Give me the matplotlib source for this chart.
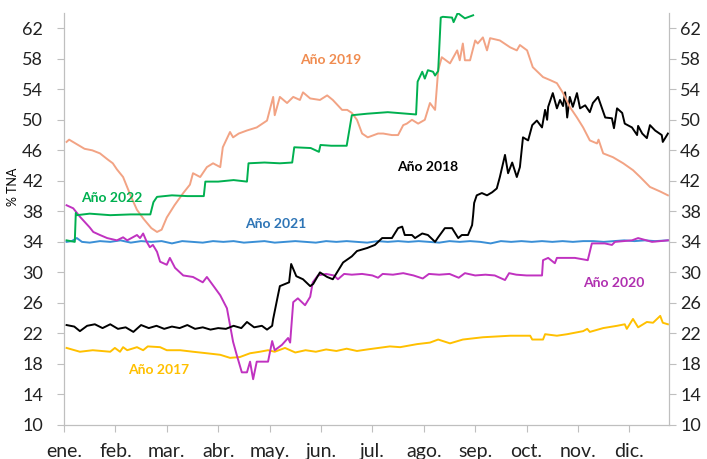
import matplotlib.pyplot as plt

plt.rcParams['font.family'] = ['Lato', 'DejaVu Sans']

meses = ['ene.', 'feb.', 'mar.', 'abr.', 'may.', 'jun.',
         'jul.', 'ago.', 'sep.', 'oct.', 'nov.', 'dic.']

# x en meses (0 = 1 de enero), y en % TNA
x2017 = [0.05, 0.31, 0.56, 0.9, 0.99, 1.09, 1.15, 1.23, 1.42, 1.54, 1.63, 1.87, 2.0, 2.26, 2.51,
         2.78, 3.04, 3.23, 3.42, 3.62, 3.81, 3.97, 4.1, 4.3, 4.5, 4.7, 4.9, 5.1, 5.3, 5.5, 5.7,
         5.9, 6.34, 6.54, 6.87, 7.12, 7.28, 7.51, 7.76, 8.15, 8.68, 9.07, 9.11, 9.32, 9.36, 9.59,
         9.79, 10.1, 10.18, 10.23, 10.49, 10.76, 10.91, 10.95, 11.07, 11.17, 11.34, 11.46, 11.6,
         11.65, 11.75]
y2017 = [20.1, 19.6, 19.8, 19.6, 20.1, 19.6, 20.2, 19.8, 20.2, 19.8, 20.3, 20.2, 19.8, 19.8, 19.6,
         19.4, 19.2, 18.8, 18.9, 19.4, 19.6, 19.8, 19.6, 20.1, 19.5, 19.8, 19.6, 19.9, 19.7, 20.0, 19.7,
         19.9, 20.3, 20.2, 20.6, 20.8, 21.2, 20.7, 21.2, 21.5, 21.7, 21.7, 21.2, 21.2, 21.9, 21.7,
         21.9, 22.3, 22.6, 22.2, 22.7, 23.0, 23.2, 22.6, 23.9, 22.8, 23.5, 23.4, 24.3,
         23.4, 23.2]

x2018 = [0.05, 0.2, 0.31, 0.45, 0.6, 0.75, 0.9, 1.05, 1.2, 1.35, 1.5, 1.65, 1.8, 1.95, 2.1, 2.25,
         2.4, 2.55, 2.7, 2.85, 3.0, 3.15, 3.3, 3.45, 3.56, 3.7, 3.85, 3.95, 4.05, 4.07, 4.16, 4.2,
         4.38, 4.42, 4.52, 4.65, 4.79, 4.85, 4.98, 5.12, 5.23, 5.43, 5.6, 5.7, 5.9, 6.05, 6.19,
         6.38, 6.5, 6.58, 6.63, 6.77, 6.83, 6.97, 7.08, 7.22, 7.28, 7.41, 7.55, 7.67, 7.74, 7.86,
         7.94, 7.96, 7.98, 8.03, 8.13, 8.23, 8.33, 8.42, 8.48, 8.58, 8.64, 8.72, 8.81, 8.87, 8.93,
         9.03, 9.11, 9.2, 9.3, 9.36, 9.4, 9.42, 9.51, 9.59, 9.65, 9.71, 9.75, 9.79, 9.84, 9.9,
         9.98, 10.04, 10.14, 10.23, 10.29, 10.39, 10.53, 10.66, 10.7, 10.76, 10.86, 10.91, 11.05,
         11.15, 11.17, 11.25, 11.34, 11.4, 11.5, 11.63, 11.65, 11.75]
y2018 = [23.1, 22.9, 22.3, 23.0, 23.2, 22.7, 23.2, 22.6, 22.8, 22.2, 23.1, 22.7, 23.0, 22.6, 22.9, 22.7,
         23.1, 22.6, 22.8, 22.5, 22.7, 22.6, 23.0, 22.7, 23.5, 22.8, 23.0, 22.5, 23.0, 23.9, 26.9, 28.2,
         28.7, 31.1, 29.5, 29.1, 28.2, 28.5, 30.0, 29.4, 29.1, 31.3, 32.1, 32.8, 33.2, 33.6, 34.5,
         34.5, 35.8, 36.0, 34.9, 34.9, 34.5, 35.1, 34.9, 34.0, 34.6, 35.8, 35.8, 34.5, 34.9, 34.9,
         36.2, 37.5, 39.1, 40.1, 40.4, 40.1, 40.5, 41.0, 42.5, 45.4, 43.0, 44.4, 42.5, 43.8, 47.7,
         47.3, 49.3, 49.9, 49.0, 51.3, 50.0, 51.7, 53.5, 51.5, 52.6, 51.8, 53.6, 50.3, 53.0, 51.7,
         53.5, 51.5, 51.9, 51.0, 52.2, 53.0, 50.3, 50.2, 48.9, 51.5, 50.9, 49.5, 49.0,
         48.0, 49.2, 48.2, 47.6, 49.3, 48.6, 48.0, 47.1, 48.2]

x2019 = [0.05, 0.1, 0.25, 0.4, 0.55, 0.7, 0.85, 0.95, 1.03, 1.15, 1.3, 1.42, 1.55, 1.7, 1.81, 1.9,
         2.0, 2.15, 2.32, 2.45, 2.51, 2.65, 2.78, 2.9, 3.04, 3.09, 3.23, 3.29, 3.4, 3.56, 3.75, 3.95,
         4.07, 4.1, 4.2, 4.34, 4.46, 4.59, 4.65, 4.79, 4.98, 5.12, 5.23, 5.41, 5.51, 5.6, 5.7, 5.8,
         5.91, 6.11, 6.21, 6.38, 6.5, 6.6, 6.67, 6.77, 6.89, 7.02, 7.12, 7.22, 7.28, 7.35, 7.51,
         7.65, 7.7, 7.76, 7.8, 7.9, 8.0, 8.05, 8.15, 8.23, 8.29, 8.48, 8.68, 8.81, 8.87, 9.01, 9.12,
         9.32, 9.46, 9.59, 9.71, 9.84, 9.98, 10.1, 10.23, 10.37, 10.4, 10.49, 10.68, 10.88, 11.07,
         11.21, 11.4, 11.6, 11.75]
y2019 = [47.1, 47.4, 46.8, 46.2, 46.0, 45.6, 44.8, 44.3, 43.5, 42.5, 40.0, 38.2, 37.0, 35.8, 35.3, 35.6,
         37.2, 38.8, 40.4, 41.5, 43.0, 42.5, 43.8, 44.3, 43.8, 46.4, 48.4, 47.7, 48.2, 48.6, 49.0, 49.9,
         53.0, 50.6, 53.0, 52.2, 53.0, 52.6, 53.6, 52.8, 52.6, 53.2, 52.6, 51.3, 51.3, 50.9, 50.0, 48.2,
         47.7, 48.2, 48.2, 48.0, 48.0, 49.3, 49.5, 50.0, 49.5, 50.0, 52.2, 51.3, 56.5, 58.2, 57.4,
         59.1, 57.8, 60.0, 57.8, 57.8, 60.4, 60.0, 60.8, 59.1, 60.7, 60.4, 59.5, 59.1, 59.8, 59.1, 56.9,
         55.6, 55.2, 54.8, 53.5, 51.7, 50.3, 49.0, 47.3, 46.9, 47.4, 45.6, 45.1, 44.3, 43.4,
         42.5, 41.2, 40.6, 40.1]

x2020 = [0.05, 0.18, 0.31, 0.5, 0.57, 0.7, 0.84, 1.03, 1.15, 1.23, 1.42, 1.48, 1.54, 1.61, 1.67, 1.73,
         1.81, 1.87, 2.0, 2.06, 2.16, 2.32, 2.51, 2.7, 2.78, 2.9, 3.04, 3.17, 3.23, 3.29, 3.36, 3.46,
         3.56, 3.62, 3.68, 3.75, 3.97, 4.05, 4.1, 4.24, 4.36, 4.4, 4.46, 4.55, 4.69, 4.79, 4.84, 4.94,
         5.1, 5.25, 5.33, 5.45, 5.6, 5.8, 6.0, 6.11, 6.2, 6.4, 6.6, 6.8, 6.98, 7.1, 7.3, 7.5, 7.68,
         7.8, 8.0, 8.2, 8.38, 8.58, 8.66, 8.8, 9.0, 9.3, 9.32, 9.42, 9.55, 9.59, 9.94, 10.19, 10.27,
         10.52, 10.66, 10.72, 11.05, 11.17, 11.44, 11.75]
y2020 = [38.8, 38.4, 37.3, 35.9, 35.3, 34.9, 34.5, 34.2, 34.6, 34.2, 34.9, 34.5, 35.1, 34.0, 33.3, 33.6,
         32.7, 31.4, 31.0, 31.9, 30.6, 29.6, 29.4, 28.7, 29.4, 28.3, 27.0, 25.3, 23.1, 20.9, 19.2, 16.9,
         16.9, 18.3, 16.0, 18.3, 18.3, 21.0, 19.8, 20.5, 21.4, 20.8, 26.1, 26.6, 25.7, 26.8, 28.7, 29.6,
         29.8, 29.6, 29.1, 29.8, 29.7, 29.8, 29.6, 29.3, 29.8, 29.7, 29.9, 29.6, 29.2, 29.8, 29.7, 29.8, 29.3,
         29.9, 29.6, 29.7, 29.6, 29.0, 29.9, 29.7, 29.6, 29.6, 31.6, 31.9, 31.2, 31.9, 31.9, 31.6, 33.8,
         33.8, 33.6, 34.0, 34.2, 34.5, 34.0, 34.2]

x2021 = [0.05, 0.15, 0.25, 0.35, 0.5, 0.7, 0.9, 1.1, 1.3, 1.5, 1.7, 1.9, 2.1, 2.3, 2.5, 2.7, 2.9,
         3.1, 3.3, 3.5, 3.7, 3.9, 4.1, 4.3, 4.5, 4.7, 4.9, 5.1, 5.3, 5.5, 5.7, 5.9, 6.1, 6.3, 6.5,
         6.7, 6.9, 7.1, 7.3, 7.5, 7.7, 7.9, 8.1, 8.3, 8.5, 8.7, 8.9, 9.1, 9.3, 9.5, 9.7, 9.9, 10.1,
         10.3, 10.5, 10.7, 10.9, 11.1, 11.3, 11.5, 11.75]
y2021 = [34.0, 34.1, 34.5, 34.0, 33.9, 34.1, 34.0, 34.2, 33.9, 34.1, 34.0, 34.1, 33.8, 34.1, 34.0, 33.9, 34.1,
         34.0, 34.1, 33.9, 34.0, 34.1, 33.9, 34.0, 34.1, 34.0, 33.9, 34.1, 34.0, 34.1, 34.0, 33.9, 34.1,
         34.0, 34.1, 34.0, 34.1, 34.0, 33.9, 34.1, 34.0, 34.1, 34.0, 33.8, 34.1, 34.0, 34.1, 34.0, 34.1,
         34.0, 34.1, 34.0, 34.1, 34.1, 34.0, 34.1, 34.2, 34.1, 34.2, 34.1, 34.2]

x2022 = [0.05, 0.21, 0.23, 0.25, 0.5, 0.9, 1.3, 1.68, 1.74, 1.81, 2.1, 2.4, 2.72, 2.75, 3.0, 3.3, 3.56,
         3.59, 3.9, 4.2, 4.44, 4.48, 4.8, 4.96, 4.99, 5.2, 5.5, 5.6, 5.9, 6.3, 6.85, 6.88, 6.97, 7.02,
         7.08, 7.18, 7.22, 7.28, 7.33, 7.37, 7.55, 7.58, 7.66, 7.8, 7.96]
y2022 = [34.2, 34.0, 37.8, 37.5, 37.7, 37.5, 37.6, 37.6, 39.2, 39.9, 40.1, 40.0, 40.0, 41.9, 41.9, 42.1, 41.9,
         44.3, 44.4, 44.3, 44.4, 46.4, 46.3, 45.8, 46.7, 46.6, 46.6, 50.6, 50.8, 51.0, 50.7, 55.0, 56.3, 55.4,
         56.5, 56.3, 55.8, 56.4, 63.4, 63.5, 63.4, 62.8, 64.0, 63.3, 63.7]

fig = plt.figure(figsize=(7.07, 4.59), dpi=100)
ax = fig.add_axes([0.0905, 0.0741, 0.8557, 0.8976])

ax.plot(x2017, y2017, color='#FFC000', lw=1.4)
ax.plot(x2021, y2021, color='#3A8FD6', lw=1.4)
ax.plot(x2020, y2020, color='#C032C0', lw=1.4)
ax.plot(x2018, y2018, color='black', lw=1.4)
ax.plot(x2019, y2019, color='#F2A384', lw=1.4)
ax.plot(x2022, y2022, color='#00B050', lw=1.4)

lab = dict(fontsize=10, fontweight='bold', ha='center', va='center')
ax.text(5.19, 57.8, 'Año 2019', color='#F08C50', **lab)
ax.text(0.93, 39.7, 'Año 2022', color='#00B050', **lab)
ax.text(4.12, 36.3, 'Año 2021', color='#2E75B6', **lab)
ax.text(7.08, 43.8, 'Año 2018', color='black', **lab)
ax.text(10.7, 28.6, 'Año 2020', color='#B030B0', **lab)
ax.text(1.85, 17.2, 'Año 2017', color='#FFC000', **lab)

ax.set_xlim(0, 11.77)
ax.set_ylim(10, 64)
ax.set_yticks(range(10, 63, 4))
ax.set_xticks(range(12))
ax.set_xticklabels(meses)

# eje derecho con las mismas marcas
ax2 = ax.twinx()
ax2.set_ylim(ax.get_ylim())
ax2.set_yticks(range(10, 63, 4))

for a in (ax, ax2):
    for s in ['left', 'right', 'bottom']:
        a.spines[s].set_color('#BFBFBF')
    a.spines['top'].set_visible(False)
ax.tick_params(axis='y', direction='out', length=5, color='#BFBFBF', labelsize=13,
               labelcolor='#222222', pad=10)
ax2.tick_params(axis='y', direction='out', length=5, color='#BFBFBF', labelsize=13,
                labelcolor='#222222', pad=3)
ax.tick_params(axis='x', direction='out', length=5, color='#BFBFBF', labelsize=14,
               labelcolor='#222222', pad=8)

fig.text(0.018, 1 - 187 / 459, '% TNA', rotation=90, va='center', ha='center', fontsize=9)

fig.savefig('out.png', dpi=100)
